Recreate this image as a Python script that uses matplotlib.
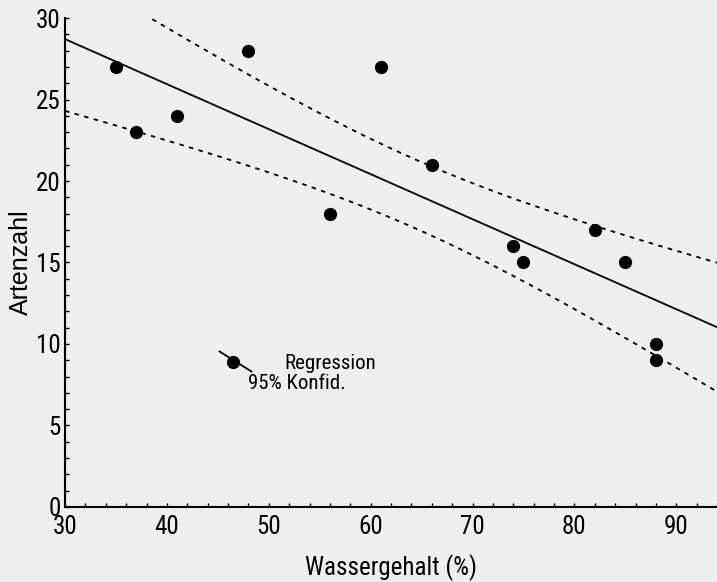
import numpy as np
import matplotlib
matplotlib.use("Agg")
import matplotlib.pyplot as plt
from matplotlib.ticker import MultipleLocator

plt.rcParams['font.family'] = ['Roboto Condensed', 'DejaVu Sans']

# Wassergehalt (%) vs. Artenzahl
wasser = [35, 37, 41, 48, 56, 61, 66, 74, 75, 82, 85, 88, 88]
arten = [27, 23, 24, 28, 18, 27, 21, 16, 15, 17, 15, 10, 9]
x_ticks = [30, 40, 50, 60, 70, 80, 90]
y_ticks = [0, 5, 10, 15, 20, 25, 30]
t_crit = 2.201  # t(0.975, df=11)

x = np.array(wasser, dtype=float)
y = np.array(arten, dtype=float)
slope, intercept = np.polyfit(x, y, 1)
resid = y - (slope * x + intercept)
s = np.sqrt(np.sum(resid ** 2) / (len(x) - 2))
sxx = np.sum((x - x.mean()) ** 2)

xs = np.linspace(30, 94, 200)
fit = slope * xs + intercept
half = t_crit * s * np.sqrt(1 / len(x) + (xs - x.mean()) ** 2 / sxx)

bg = '#efefef'
fig = plt.figure(figsize=(7.17, 5.82), dpi=100, facecolor=bg)
ax = fig.add_axes([0.0907, 0.129, 0.9093, 0.84])
ax.set_facecolor(bg)

ax.plot(xs, fit, color='black', lw=1.3)
ax.plot(xs, fit + half, color='black', lw=1.3, ls=(0, (2.5, 3)))
ax.plot(xs, fit - half, color='black', lw=1.3, ls=(0, (2.5, 3)))
ax.plot(x, y, 'o', color='black', ms=8.5, zorder=3)

ax.set_xlim(30, 94)
ax.set_ylim(0, 30)
ax.set_xticks(x_ticks)
ax.set_yticks(y_ticks)
ax.xaxis.set_minor_locator(MultipleLocator(2))
ax.yaxis.set_minor_locator(MultipleLocator(1))
ax.tick_params(which='both', direction='in', length=3, width=1, labelsize=18, pad=3)
ax.tick_params(axis='x', pad=6)

for side in ['top', 'right']:
    ax.spines[side].set_visible(False)
for side in ['left', 'bottom']:
    ax.spines[side].set_linewidth(1.5)

ax.set_xlabel('Wassergehalt (%)', fontsize=18, labelpad=11)
ax.set_ylabel('Artenzahl', fontsize=18, labelpad=2, family=['Liberation Sans', 'DejaVu Sans'])

# legend drawn by hand like in the original
ax.plot([0.237, 0.286], [0.318, 0.277], color='black', lw=1.3, transform=ax.transAxes, clip_on=False)
ax.plot([0.258], [0.297], 'o', color='black', ms=8.5, transform=ax.transAxes)
ax.text(0.337, 0.293, 'Regression', fontsize=15, transform=ax.transAxes, va='center', ha='left')
ax.text(0.28, 0.252, '95% Konfid.', fontsize=15, transform=ax.transAxes, va='center', ha='left')

fig.savefig('out.png', dpi=100, facecolor=bg)
